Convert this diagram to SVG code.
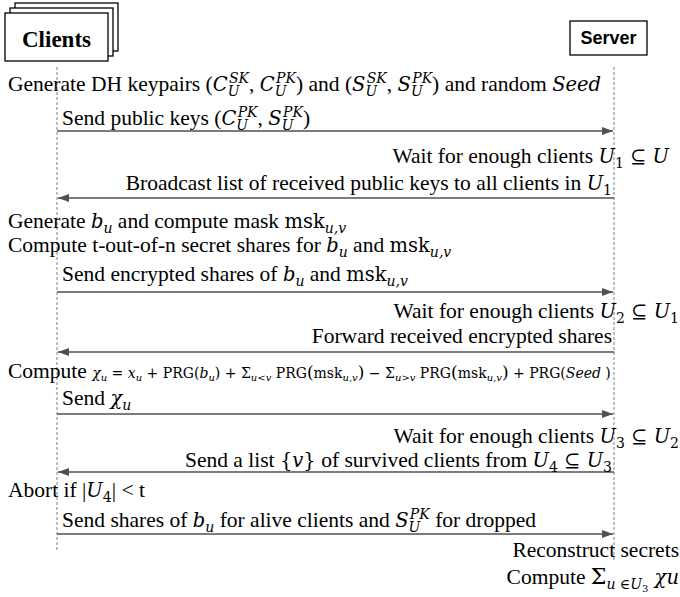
<svg xmlns="http://www.w3.org/2000/svg" width="680" height="597" viewBox="0 0 680 597">
<style>
.t{font-family:"Liberation Serif","Times New Roman",serif;font-size:21.5px;fill:#000}
.m{font-family:"DejaVu Serif",serif;font-style:italic;font-size:19.5px}
.r{font-family:"DejaVu Serif",serif;font-style:normal;font-size:19.5px}
.s{font-size:14px}
.f{font-family:"DejaVu Serif",serif;font-size:14px}
.fs{font-size:10px}
.box{fill:#fff;stroke:#000;stroke-width:1.3}
.life{stroke:#808080;stroke-width:1;stroke-dasharray:3 2;fill:none}
.msg{stroke:#505050;stroke-width:1.6;fill:none;marker-end:url(#ah)}
</style>
<defs>
<marker id="ah" markerUnits="userSpaceOnUse" markerWidth="12" markerHeight="10" refX="11" refY="4" orient="auto">
<path d="M0,0 L11,4 L0,8 z" fill="#505050"/>
</marker>
</defs>
<rect width="680" height="597" fill="#fff"/>
<g id="clients">
<rect class="box" x="15" y="3" width="103" height="48"/>
<rect class="box" x="10" y="8" width="103" height="48"/>
<rect class="box" x="5" y="13" width="103" height="48"/>
<text x="56.5" y="47" text-anchor="middle" style="font-family:'Liberation Serif',serif;font-weight:bold;font-size:23px">Clients</text>
</g>
<g id="server">
<rect class="box" x="570" y="21" width="77" height="34"/>
<text x="608.5" y="44" text-anchor="middle" style="font-family:'Liberation Sans',Arial,sans-serif;font-weight:bold;font-size:18px">Server</text>
</g>
<g id="lifelines">
<line class="life" x1="57" y1="67" x2="57" y2="550"/>
<line class="life" x1="614" y1="67" x2="614" y2="562"/>
</g>
<g id="connectors">
<line class="msg" x1="57" y1="131" x2="613" y2="131"/>
<line class="msg" x1="614" y1="198" x2="58" y2="198"/>
<line class="msg" x1="57" y1="292" x2="613" y2="292"/>
<line class="msg" x1="614" y1="352" x2="58" y2="352"/>
<line class="msg" x1="57" y1="414" x2="613" y2="414"/>
<line class="msg" x1="614" y1="472" x2="58" y2="472"/>
<line class="msg" x1="57" y1="534" x2="613" y2="534"/>
</g>
<g id="labels">
<text class="t" x="8" y="91">Generate DH keypairs (<tspan class="m">C</tspan><tspan class="m s" dy="5">U</tspan><tspan class="m s" dx="-10.5" dy="-13">SK</tspan><tspan dy="8">, </tspan><tspan class="m">C</tspan><tspan class="m s" dy="5">U</tspan><tspan class="m s" dx="-10.5" dy="-13">PK</tspan><tspan dy="8">) and (</tspan><tspan class="m">S</tspan><tspan class="m s" dy="5">U</tspan><tspan class="m s" dx="-10.5" dy="-13">SK</tspan><tspan dy="8">, </tspan><tspan class="m">S</tspan><tspan class="m s" dy="5">U</tspan><tspan class="m s" dx="-10.5" dy="-13">PK</tspan><tspan dy="8">) and random </tspan><tspan class="m">Seed</tspan></text>

<text class="t" x="62" y="125">Send public keys (<tspan class="m">C</tspan><tspan class="m s" dy="5">U</tspan><tspan class="m s" dx="-10.5" dy="-13">PK</tspan><tspan dy="8">, </tspan><tspan class="m">S</tspan><tspan class="m s" dy="5">U</tspan><tspan class="m s" dx="-10.5" dy="-13">PK</tspan><tspan dy="8">)</tspan></text>

<text class="t" x="669" y="163" text-anchor="end">Wait for enough clients <tspan class="m">U</tspan><tspan class="r s" dy="5">1</tspan><tspan class="r" dy="-5"> ⊆ </tspan><tspan class="m">U</tspan></text>

<text class="t" x="612" y="190" text-anchor="end">Broadcast list of received public keys to all clients in <tspan class="m">U</tspan><tspan class="r s" dy="5">1</tspan></text>

<text class="t" x="8" y="228">Generate <tspan class="m">b</tspan><tspan class="m s" dy="5">u</tspan><tspan dy="-5"> and compute mask </tspan><tspan class="r">msk</tspan><tspan class="m s" dy="5">u,v</tspan></text>

<text class="t" x="8" y="252">Compute t-out-of-n secret shares for <tspan class="m">b</tspan><tspan class="m s" dy="5">u</tspan><tspan dy="-5"> and </tspan><tspan class="r">msk</tspan><tspan class="m s" dy="5">u,v</tspan></text>

<text class="t" x="62" y="281">Send encrypted shares of <tspan class="m">b</tspan><tspan class="m s" dy="5">u</tspan><tspan dy="-5"> and </tspan><tspan class="r">msk</tspan><tspan class="m s" dy="5">u,v</tspan></text>

<text class="t" x="679" y="318" text-anchor="end">Wait for enough clients <tspan class="m">U</tspan><tspan class="r s" dy="5">2</tspan><tspan class="r" dy="-5"> ⊆ </tspan><tspan class="m">U</tspan><tspan class="r s" dy="5">1</tspan></text>

<text class="t" x="612" y="343" text-anchor="end">Forward received encrypted shares</text>

<text class="t" x="8" y="378">Compute <tspan class="f" font-style="italic">χ</tspan><tspan class="f fs" font-style="italic" dy="3">u</tspan><tspan class="f" dy="-3"> = </tspan><tspan class="f" font-style="italic">x</tspan><tspan class="f fs" font-style="italic" dy="3">u</tspan><tspan class="f" dy="-3"> + PRG(</tspan><tspan class="f" font-style="italic">b</tspan><tspan class="f fs" font-style="italic" dy="3">u</tspan><tspan class="f" dy="-3">) + Σ</tspan><tspan class="f fs" font-style="italic" dy="3">u&lt;v</tspan><tspan class="f" dy="-3"> PRG</tspan><tspan class="f" style="font-size:17px">(</tspan><tspan class="f">msk</tspan><tspan class="f fs" font-style="italic" dy="3">u,v</tspan><tspan class="f" style="font-size:17px" dy="-3">)</tspan><tspan class="f"> − Σ</tspan><tspan class="f fs" font-style="italic" dy="3">u&gt;v</tspan><tspan class="f" dy="-3"> PRG</tspan><tspan class="f" style="font-size:17px">(</tspan><tspan class="f">msk</tspan><tspan class="f fs" font-style="italic" dy="3">u,v</tspan><tspan class="f" style="font-size:17px" dy="-3">)</tspan><tspan class="f"> + PRG(</tspan><tspan class="f" font-style="italic">Seed</tspan><tspan class="f"> )</tspan></text>

<text class="t" x="62" y="405">Send <tspan class="m">χ</tspan><tspan class="m s" dy="5">u</tspan></text>

<text class="t" x="679" y="443" text-anchor="end">Wait for enough clients <tspan class="m">U</tspan><tspan class="r s" dy="5">3</tspan><tspan class="r" dy="-5"> ⊆ </tspan><tspan class="m">U</tspan><tspan class="r s" dy="5">2</tspan></text>

<text class="t" x="612" y="467" text-anchor="end">Send a list <tspan class="r">{</tspan><tspan class="m">v</tspan><tspan class="r">}</tspan> of survived clients from <tspan class="m">U</tspan><tspan class="r s" dy="5">4</tspan><tspan class="r" dy="-5"> ⊆ </tspan><tspan class="m">U</tspan><tspan class="r s" dy="5">3</tspan></text>

<text class="t" x="8" y="497">Abort if |<tspan class="m">U</tspan><tspan class="r s" dy="5">4</tspan><tspan dy="-5">| &lt; t</tspan></text>

<text class="t" x="62" y="527">Send shares of <tspan class="m">b</tspan><tspan class="m s" dy="5">u</tspan><tspan dy="-5"> for alive clients and </tspan><tspan class="m">S</tspan><tspan class="m s" dy="5">U</tspan><tspan class="m s" dx="-10.5" dy="-13">PK</tspan><tspan dy="8"> for dropped</tspan></text>

<text class="t" x="679" y="557" text-anchor="end">Reconstruct secrets</text>

<text class="t" x="679" y="584" text-anchor="end">Compute <tspan class="r" style="font-size:22px">Σ</tspan><tspan class="m s" dy="5">u </tspan><tspan class="r s">∈</tspan><tspan class="m s">U</tspan><tspan class="r" style="font-size:10px" dy="3">3</tspan><tspan class="m" dy="-8"> χu</tspan></text>
</g>
</svg>
